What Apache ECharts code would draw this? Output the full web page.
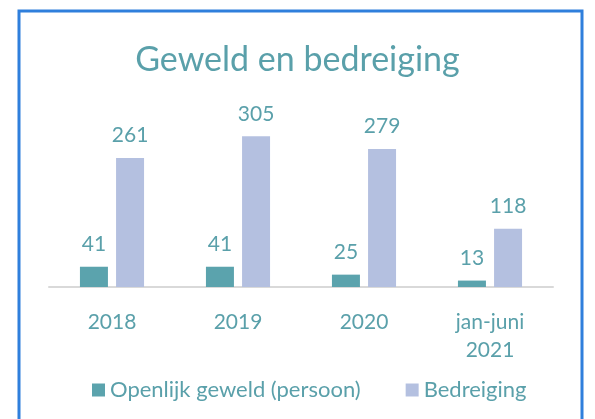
<!DOCTYPE html>
<html lang="nl">
<head>
<meta charset="UTF-8">
<title>Geweld en bedreiging</title>
<script src="https://cdn.jsdelivr.net/npm/echarts@6/dist/echarts.min.js"></script>
<style>
  html, body { margin: 0; padding: 0; background: #fff; }
  #chart { width: 595px; height: 419px; }
</style>
</head>
<body>
<div id="chart"></div>
<script>
// data
const categories = ['2018', '2019', '2020', 'jan-juni\n2021'];
const geweld = [41, 41, 25, 13];
const bedreiging = [261, 305, 279, 118];

const TEXT = '#5aa0aa';
const FONT = 'Lato';

const chart = echarts.init(document.getElementById('chart'), null, { renderer: 'canvas' });

const labelStyle = {
  show: true,
  position: 'top',
  distance: 12,
  color: TEXT,
  fontFamily: FONT,
  fontSize: 21
};

chart.setOption({
  animation: false,
  title: {
    text: 'Geweld en bedreiging',
    left: 'center',
    top: 38,
    textStyle: { color: TEXT, fontFamily: FONT, fontSize: 34, fontWeight: 'normal' }
  },
  graphic: [{
    type: 'rect',
    shape: { x: 19, y: 11, width: 563, height: 420 },
    style: { fill: 'none', stroke: '#2f7fdc', lineWidth: 3 },
    silent: true
  }],
  legend: {
    bottom: 13,
    left: 87,
    itemWidth: 13,
    itemHeight: 13,
    itemGap: 45,
    icon: 'rect',
    textStyle: { color: TEXT, fontFamily: FONT, fontSize: 22 },
    data: ['Openlijk geweld (persoon)', 'Bedreiging']
  },
  grid: { left: 49, right: 42, top: 114, bottom: 132 },
  xAxis: {
    type: 'category',
    data: categories,
    axisTick: { show: false },
    axisLine: { lineStyle: { color: '#d9d9d9', width: 2 } },
    axisLabel: { color: TEXT, fontFamily: FONT, fontSize: 21, margin: 21, lineHeight: 28 }
  },
  yAxis: {
    type: 'value',
    min: 0,
    max: 350,
    show: false,
    splitLine: { show: false }
  },
  series: [
    {
      name: 'Openlijk geweld (persoon)',
      type: 'bar',
      data: geweld,
      barWidth: 28,
      barGap: '29%',
      itemStyle: { color: '#5ba3ad' },
      label: labelStyle
    },
    {
      name: 'Bedreiging',
      type: 'bar',
      data: bedreiging,
      barWidth: 28,
      itemStyle: { color: '#b4c0e0' },
      label: labelStyle
    }
  ]
});
</script>
</body>
</html>
